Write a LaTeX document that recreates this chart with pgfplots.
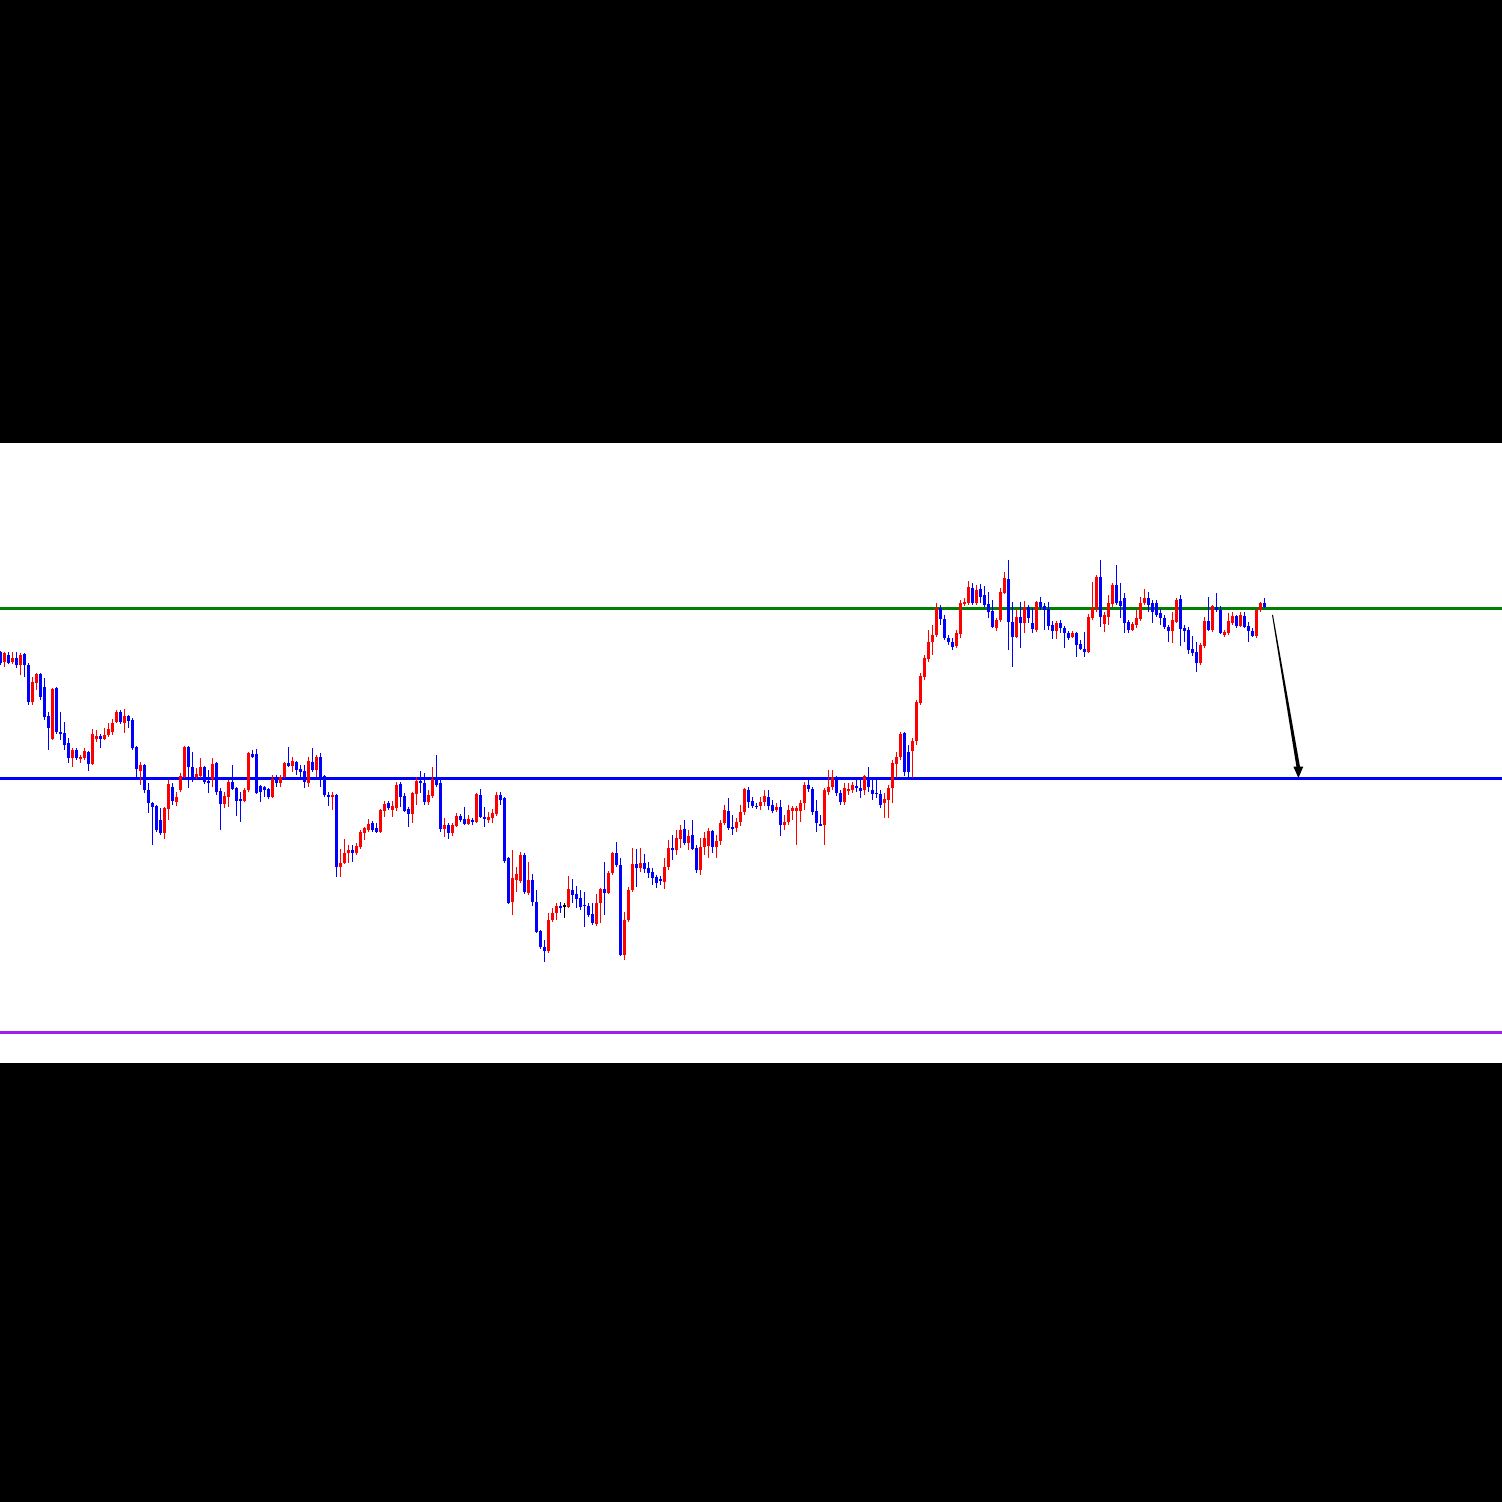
\documentclass[border=0pt]{standalone}
\usepackage{pgfplots}
\usepackage{pgfplotstable}
\pgfplotsset{compat=1.18}

\definecolor{lvlgreen}{RGB}{0,128,0}
\definecolor{lvlpurple}{RGB}{160,32,240}

% candles: i = bar number, o h l c in pixel rows of the chart (row grows downward)
\pgfplotstableread{
i o h l c
0 652 651 665 663
1 662 652 667 653
2 655 652 664 663
3 662 652 664 658
4 658 652 668 665
5 665 653 675 655
6 654 653 677 665
7 665 663 705 702
8 702 677 705 682
9 683 673 690 674
10 674 673 700 697
11 687 678 720 717
12 716 712 750 728
13 739 688 740 689
14 688 687 734 732
15 732 712 740 734
16 733 722 750 745
17 743 738 763 758
18 758 748 767 750
19 750 748 760 758
20 759 755 763 757
21 758 748 760 751
22 752 751 771 764
23 764 729 765 734
24 739 730 742 736
25 736 734 748 739
26 739 728 740 735
27 735 723 737 729
28 732 719 735 723
29 722 710 723 712
30 712 710 724 722
31 723 709 733 716
32 716 715 728 721
33 720 718 750 748
34 747 746 777 769
35 771 762 785 765
36 765 764 793 790
37 790 783 813 803
38 803 802 845 807
39 806 805 832 830
40 820 808 835 833
41 833 807 839 808
42 809 780 820 784
43 787 783 805 801
44 802 792 806 797
45 790 773 792 776
46 777 746 778 747
47 747 746 788 767
48 767 752 782 777
49 777 768 779 774
50 776 758 778 767
51 767 766 784 782
52 781 770 793 783
53 779 758 787 764
54 763 762 795 792
55 791 788 830 804
56 804 792 808 796
57 797 780 807 782
58 782 765 790 789
59 788 787 816 801
60 799 792 822 801
61 801 788 802 790
62 790 752 792 753
63 754 750 758 757
64 754 749 794 793
65 786 785 802 792
66 787 786 797 790
67 789 788 799 797
68 797 775 798 779
69 779 775 787 783
70 783 775 787 777
71 777 762 778 763
72 763 747 767 766
73 766 757 772 761
74 762 761 775 770
75 769 765 777 772
76 771 765 788 782
77 783 757 787 761
78 762 748 772 770
79 770 755 777 757
80 757 753 787 777
81 776 775 797 795
82 795 792 806 797
83 797 792 810 795
84 795 794 877 867
85 867 849 877 863
86 863 839 864 853
87 853 845 863 850
88 850 845 862 853
89 853 843 855 846
90 847 830 849 832
91 833 827 840 828
92 830 819 832 824
93 823 821 832 830
94 828 823 833 832
95 832 809 833 810
96 811 801 817 804
97 803 801 810 808
98 810 801 817 806
99 808 782 811 785
100 784 782 807 797
101 796 793 812 811
102 809 807 827 814
103 814 792 823 793
104 794 777 805 781
105 781 771 793 783
106 783 773 805 802
107 802 790 805 795
108 796 767 798 779
109 779 755 787 785
110 783 778 832 829
111 829 818 837 825
112 825 823 839 833
113 833 823 836 825
114 826 813 827 816
115 816 814 822 820
116 819 807 825 824
117 824 815 825 819
118 820 818 825 821
119 822 793 823 794
120 795 789 818 817
121 817 807 827 819
122 820 812 823 817
123 818 809 823 813
124 814 792 816 795
125 795 792 805 800
126 798 797 863 861
127 858 857 904 903
128 902 850 915 878
129 880 867 892 874
130 881 852 883 855
131 855 853 894 892
132 893 862 895 880
133 880 874 906 902
134 902 890 933 932
135 931 930 949 947
136 947 940 962 951
137 951 913 953 920
138 920 908 922 913
139 913 903 920 906
140 906 902 913 907
141 906 903 918 906
142 907 876 908 889
143 890 879 903 895
144 894 886 908 899
145 898 890 910 907
146 905 892 927 906
147 906 903 917 915
148 914 903 925 923
149 924 894 926 903
150 903 888 923 889
151 889 862 915 893
152 893 871 894 873
153 873 852 875 853
154 853 842 867 865
155 865 858 956 955
156 955 912 960 920
157 920 887 922 890
158 890 848 892 864
159 864 849 887 868
160 868 848 872 863
161 863 854 873 869
162 868 862 878 873
163 872 868 885 878
164 877 875 888 883
165 879 876 885 881
166 882 858 889 867
167 867 840 870 848
168 848 835 860 850
169 850 830 855 838
170 839 825 848 830
171 829 820 845 843
172 843 830 850 836
173 835 820 850 849
174 848 845 873 870
175 870 838 875 847
176 847 832 855 838
177 846 828 858 831
178 831 830 853 847
179 847 835 858 841
180 841 820 845 823
181 823 805 825 810
182 811 798 830 828
183 827 815 835 828
184 828 818 832 822
185 822 805 826 812
186 812 788 815 789
187 790 787 808 802
188 801 797 808 806
189 806 803 809 807
190 806 797 810 802
191 802 790 806 796
192 797 790 810 806
193 805 800 813 811
194 810 803 812 807
195 807 800 836 825
196 825 815 830 822
197 822 805 825 810
198 811 806 820 808
199 811 806 845 808
200 811 800 822 803
201 803 782 810 785
202 785 777 792 789
203 789 787 815 812
204 811 800 832 823
205 824 815 826 825
206 825 788 845 790
207 792 770 795 787
208 787 770 790 777
209 777 776 796 793
210 793 790 805 802
211 802 783 805 788
212 791 783 795 789
213 790 782 793 785
214 786 780 792 788
215 788 780 798 791
216 790 775 795 776
217 777 767 792 787
218 790 780 800 794
219 793 778 798 794
220 794 790 808 805
221 803 793 818 799
222 800 785 818 788
223 788 760 803 763
224 764 752 778 757
225 757 732 760 734
226 733 732 776 772
227 752 745 778 772
228 751 738 778 741
229 741 700 745 702
230 703 673 705 676
231 677 655 680 658
232 659 630 662 642
233 642 625 655 635
234 635 603 637 608
235 608 605 625 619
236 619 615 640 638
237 638 635 645 642
238 642 638 650 647
239 646 630 648 633
240 634 600 638 603
241 604 598 606 602
242 603 581 605 587
243 588 583 605 603
244 603 585 605 590
245 589 584 603 597
246 595 586 607 605
247 604 592 618 612
248 611 600 628 627
249 628 618 631 620
250 620 588 622 592
251 593 572 594 578
252 579 560 650 622
253 622 602 667 637
254 637 609 638 617
255 617 602 648 623
256 623 601 633 607
257 607 605 623 618
258 623 608 633 629
259 630 601 632 602
260 602 597 610 607
261 606 603 630 610
262 609 602 630 626
263 625 621 639 631
264 631 621 639 623
265 623 620 633 628
266 628 626 648 633
267 633 631 640 638
268 637 631 638 633
269 633 632 657 645
270 644 640 650 649
271 649 632 657 652
272 652 614 653 617
273 618 582 620 608
274 609 575 612 577
275 577 560 627 617
276 624 612 632 615
277 617 595 625 603
278 604 583 607 585
279 585 565 605 603
280 601 583 618 606
281 598 593 633 623
282 622 620 633 630
283 630 622 631 624
284 625 610 628 618
285 619 597 621 603
286 603 589 605 598
287 598 592 612 605
288 603 600 623 612
289 603 600 617 615
290 613 609 625 618
291 618 615 629 627
292 627 625 642 631
293 631 612 643 620
294 622 598 623 600
295 599 595 646 629
296 628 625 642 631
297 630 627 654 650
298 649 636 656 653
299 652 642 672 663
300 663 643 665 645
301 646 617 648 621
302 621 597 631 630
303 630 605 632 606
304 607 593 612 610
305 610 606 634 633
306 635 630 637 632
307 633 613 635 621
308 623 612 625 616
309 616 615 628 626
310 626 612 627 615
311 616 612 628 627
312 626 622 642 631
313 631 628 637 636
314 636 609 638 610
315 610 602 612 603
316 603 598 608 607
}\candles

\begin{document}
\begin{tikzpicture}
\begin{axis}[
    width=15.02cm, height=15.02cm, scale only axis,
    xmin=0, xmax=1502, ymin=0, ymax=1502,
    y dir=reverse,
    hide axis,
]
% frame: black bands above and below the chart
\fill[white] (axis cs:0,0) rectangle (axis cs:1502,1502);
\fill[black] (axis cs:0,0) rectangle (axis cs:1502,443);
\fill[black] (axis cs:0,1063) rectangle (axis cs:1502,1502);

% level lines
\addplot[lvlgreen, line width=0.7pt] coordinates {(0,608.5) (1502,608.5)};
\addplot[blue, line width=0.7pt] coordinates {(0,778.3) (1502,778.3)};
\addplot[lvlpurple, line width=0.6pt] coordinates {(0,1032.5) (1502,1032.5)};

% bullish candles (close above open)
\addplot[draw=none, mark=none,
    x filter/.expression={\thisrow{c}<\thisrow{o} ? x : nan},
    error bars/.cd, y dir=both, y explicit, error mark=none,
    error bar style={draw=red, line width=0.33pt}]
    table[x expr=4*\thisrow{i}+0.5, y expr=(\thisrow{h}+\thisrow{l})/2,
          y error expr=(\thisrow{l}-\thisrow{h})/2] {\candles};
\addplot[draw=none, mark=none,
    x filter/.expression={\thisrow{c}<\thisrow{o} ? x : nan},
    error bars/.cd, y dir=both, y explicit, error mark=none,
    error bar style={draw=red, line width=0.95pt}]
    table[x expr=4*\thisrow{i}+0.5, y expr=(\thisrow{o}+\thisrow{c})/2,
          y error expr=(\thisrow{o}-\thisrow{c})/2] {\candles};

% bearish candles
\addplot[draw=none, mark=none,
    x filter/.expression={\thisrow{c}>\thisrow{o} ? x : nan},
    error bars/.cd, y dir=both, y explicit, error mark=none,
    error bar style={draw=blue, line width=0.33pt}]
    table[x expr=4*\thisrow{i}+0.5, y expr=(\thisrow{h}+\thisrow{l})/2,
          y error expr=(\thisrow{l}-\thisrow{h})/2] {\candles};
\addplot[draw=none, mark=none,
    x filter/.expression={\thisrow{c}>\thisrow{o} ? x : nan},
    error bars/.cd, y dir=both, y explicit, error mark=none,
    error bar style={draw=blue, line width=0.95pt}]
    table[x expr=4*\thisrow{i}+0.5, y expr=(\thisrow{o}+\thisrow{c})/2,
          y error expr=(\thisrow{c}-\thisrow{o})/2] {\candles};

% doji
\addplot[draw=none, mark=none,
    x filter/.expression={\thisrow{c}==\thisrow{o} ? x : nan},
    error bars/.cd, y dir=both, y explicit, error mark=none,
    error bar style={draw=black, line width=0.33pt}]
    table[x expr=4*\thisrow{i}+0.5, y expr=(\thisrow{h}+\thisrow{l})/2,
          y error expr=(\thisrow{l}-\thisrow{h})/2] {\candles};
\addplot[draw=none, mark=none,
    x filter/.expression={\thisrow{c}==\thisrow{o} ? x : nan},
    error bars/.cd, y dir=both, y explicit, error mark=none,
    error bar style={draw=black, line width=0.95pt}]
    table[x expr=4*\thisrow{i}+0.5, y expr=\thisrow{o}, y error expr=0.6] {\candles};

% projection arrow (tapered shaft)
\fill[black] (axis cs:1272,615) -- (axis cs:1273,615) -- (axis cs:1300.2,768) -- (axis cs:1296.6,768) -- cycle;
\fill[black] (axis cs:1293.3,766.5) -- (axis cs:1303.3,766.5) -- (axis cs:1298.4,778) -- cycle;
\end{axis}
\end{tikzpicture}
\end{document}
